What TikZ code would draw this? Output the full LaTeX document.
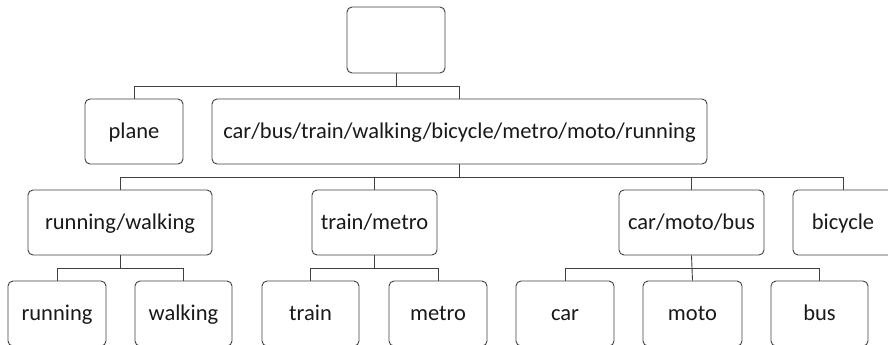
\documentclass[tikz,border=0pt]{standalone}
\usepackage{fontspec}
\setmainfont{Carlito}
\begin{document}
\begin{tikzpicture}[x=1pt,y=-1pt,
  box/.style={draw=black!75, line width=0.9pt, rounded corners=5pt,
    inner sep=0pt, minimum height=65pt, text height=17.5pt, text depth=4pt,
    font=\fontsize{22.5}{27}\selectfont, text=black!90},
  link/.style={draw=black!75, line width=0.9pt}]
\useasboundingbox (0,0) rectangle (888,345);

% level 0 and 1
\node[box, minimum width=98pt, minimum height=66pt, text height=0pt, text depth=0pt] (root) at (396,40) {};
\node[box, minimum width=98pt] (plane) at (134,131.5) {plane};
\node[box, minimum width=495pt] (rest) at (459.5,131.5) {car/bus/train/walking/bicycle/metro/moto/running};

% level 2
\node[box, minimum width=184pt] (rw)  at (120,222.5)   {running/walking};
\node[box, minimum width=125pt] (tm)  at (374.5,222.5) {train/metro};
\node[box, minimum width=145pt] (cmb) at (691.5,222.5) {car/moto/bus};
\node[box, minimum width=100pt] (bic) at (843,222.5)   {bicycle};

% level 3
\node[box, minimum width=98pt] (run)   at (57,313.5)    {running};
\node[box, minimum width=97pt] (walk)  at (183.5,313.5) {walking};
\node[box, minimum width=97pt] (train) at (310.5,313.5) {train};
\node[box, minimum width=98pt] (metro) at (438,313.5)   {metro};
\node[box, minimum width=98pt] (car)   at (565,313.5)   {car};
\node[box, minimum width=99pt] (moto)  at (692.5,313.5) {moto};
\node[box, minimum width=97pt] (bus)   at (819.5,313.5) {bus};

% bus lines
\coordinate (b1) at (0,86);
\coordinate (b2) at (0,177);
\coordinate (b3) at (0,268.5);

\draw[link] (root.south) -- (root.south |- b1);
\draw[link] (plane.north) -- (plane.north |- b1) -- (rest.north |- b1) -- (rest.north);

\draw[link] (rest.south) -- (rest.south |- b2);
\draw[link] (rw.north) -- (rw.north |- b2) -- (bic.north |- b2) -- (bic.north);
\draw[link] (tm.north) -- (tm.north |- b2);
\draw[link] (cmb.north) -- (cmb.north |- b2);

\draw[link] (rw.south) -- (rw.south |- b3);
\draw[link] (run.north) -- (run.north |- b3) -- (walk.north |- b3) -- (walk.north);
\draw[link] (tm.south) -- (tm.south |- b3);
\draw[link] (train.north) -- (train.north |- b3) -- (metro.north |- b3) -- (metro.north);
\draw[link] (cmb.south) -- (moto.north);
\draw[link] (car.north) -- (car.north |- b3) -- (bus.north |- b3) -- (bus.north);
\end{tikzpicture}
\end{document}
